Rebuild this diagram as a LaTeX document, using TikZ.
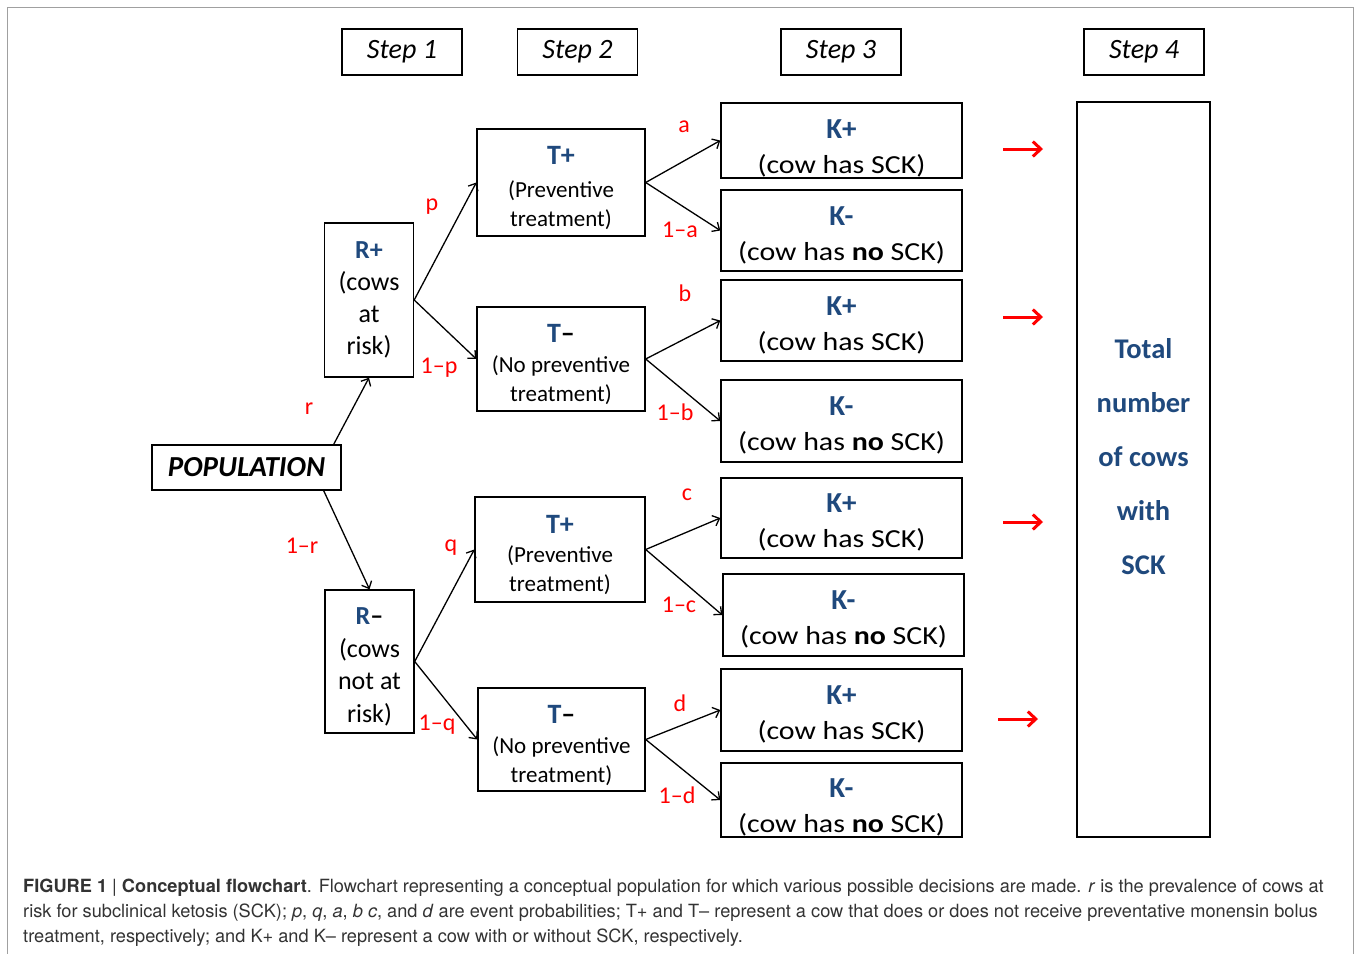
\documentclass[tikz,border=0pt]{standalone}
\usepackage{fontspec}
\setmainfont{Carlito}
\newfontfamily\capfont{TeX Gyre Heros}
\usetikzlibrary{arrows.meta}
\definecolor{kblue}{HTML}{1F497D}
\definecolor{kred}{HTML}{FF0000}
\definecolor{framegray}{HTML}{A0A0A0}
\newcommand\hstretch[1]{\scalebox{1.15}[1]{#1}}
\newcommand\khead[2][34pt]{\rule{0pt}{#1}{\fontsize{29}{29}\selectfont\bfseries\color{kblue}#2}}
\newcommand\thead[1]{\rule{0pt}{30pt}{\fontsize{28}{28}\selectfont\bfseries#1}}
\begin{document}
\begin{tikzpicture}[x=1pt,y=-1pt,
  box/.style={draw, line width=1.4pt, inner sep=0pt, align=center},
  stepbox/.style={box, minimum width=120pt, minimum height=46pt, font=\fontsize{28}{30}\selectfont\itshape},
  popbox/.style={box, minimum width=189pt, minimum height=45pt, font=\fontsize{29}{30}\selectfont\bfseries\itshape},
  rbox/.style={box, minimum width=89pt, font=\fontsize{26}{32}\selectfont},
  tbox/.style={box, font=\fontsize{23}{29}\selectfont},
  kbox/.style={box, minimum width=241pt, font=\fontsize{26}{35}\selectfont},
  conn/.style={line width=1.3pt, -{Straight Barb[length=6pt,width=11pt,line width=1.3pt]}},
  redarrow/.style={kred, line width=3pt, -{Straight Barb[length=8pt,width=15pt,line width=3pt]}},
  prob/.style={text=kred, font=\fontsize{24}{24}\selectfont, inner sep=0pt},
  capline/.style={anchor=base west, inner sep=0pt, font=\capfont\fontsize{18.2}{20}\selectfont, text=black!80}
]
\useasboundingbox (0,0) rectangle (1356,953);
\fill[white] (0,0) rectangle (1356,953);
\draw[framegray, line width=1pt] (7,980) -- (7,7) -- (1353,7) -- (1353,980);

% step headers
\node[stepbox] (s1) at (402,52) {Step 1};
\node[stepbox] (s2) at (577.5,52) {Step 2};
\node[stepbox] (s3) at (841,52) {Step 3};
\node[stepbox] (s4) at (1144,52) {Step 4};

% population
\node[popbox] (pop) at (246.5,467.5) {POPULATION};

% step 1
\node[rbox, minimum height=154pt] (rp) at (369,300)
  {{\bfseries\color{kblue}R+}\\(cows\\at\\risk)};
\node[rbox, minimum height=143pt, font=\fontsize{26}{32.5}\selectfont] (rm) at (369.5,661.5)
  {\rule{0pt}{28pt}{\bfseries{\color{kblue}R}–}\\(cows\\not at\\risk)};

% step 2
\node[tbox, minimum width=168pt, minimum height=107pt] (tp1) at (561,182.5)
  {\thead{\color{kblue}T+}\\[4pt](Preventive\\treatment)};
\node[tbox, minimum width=168pt, minimum height=104pt] (tm1) at (561,359)
  {\thead{{\color{kblue}T}–}\\[1pt](No preventive\\treatment)};
\node[tbox, minimum width=170pt, minimum height=105pt] (tp2) at (560,549.5)
  {\thead{\color{kblue}T+}\\[0pt](Preventive\\treatment)};
\node[tbox, minimum width=167pt, minimum height=103pt] (tm2) at (561.5,739.5)
  {\thead{{\color{kblue}T}–}\\[1pt](No preventive\\treatment)};

% step 3
\node[kbox, minimum height=75pt] (k1) at (841.5,140.5)
  {\khead{K+}\\\hstretch{(cow has SCK)}};
\node[kbox, minimum height=81pt] (k2) at (841.5,230.5)
  {\khead[28pt]{K-}\\\hstretch{(cow has \textbf{no} SCK)}};
\node[kbox, minimum height=81pt] (k3) at (841.5,320.5)
  {\khead[28pt]{K+}\\\hstretch{(cow has SCK)}};
\node[kbox, minimum height=82pt] (k4) at (841.5,421)
  {\khead[28pt]{K-}\\\hstretch{(cow has \textbf{no} SCK)}};
\node[kbox, minimum height=80pt] (k5) at (841.5,518)
  {\khead[28pt]{K+}\\\hstretch{(cow has SCK)}};
\node[kbox, minimum height=82pt] (k6) at (843.5,615)
  {\khead[28pt]{K-}\\\hstretch{(cow has \textbf{no} SCK)}};
\node[kbox, minimum height=82pt] (k7) at (841.5,710)
  {\khead[28pt]{K+}\\\hstretch{(cow has SCK)}};
\node[kbox, minimum height=74pt] (k8) at (841.5,800)
  {\khead{K-}\\\hstretch{(cow has \textbf{no} SCK)}};

% step 4
\node[box, minimum width=133pt, minimum height=735pt,
  label={[align=center, yshift=13pt, text=kblue, font=\fontsize{28.5}{54}\selectfont\bfseries]center:Total\\number\\of cows\\with\\SCK}] (tot) at (1143.5,469.5) {};

% connectors
\draw[conn] ([xshift=-8pt]pop.north east) -- (rp.south);
\draw[conn] ([xshift=-18pt]pop.south east) -- (rm.north);
\draw[conn] (rp.east) -- (tp1.west);
\draw[conn] (rp.east) -- (tm1.west);
\draw[conn] (rm.east) -- (tp2.west);
\draw[conn] (rm.east) -- (tm2.west);
\draw[conn] (tp1.east) -- (k1.west);
\draw[conn] (tp1.east) -- (k2.west);
\draw[conn] (tm1.east) -- (k3.west);
\draw[conn] (tm1.east) -- (k4.west);
\draw[conn] (tp2.east) -- (k5.west);
\draw[conn] (tp2.east) -- (k6.west);
\draw[conn] (tm2.east) -- (k7.west);
\draw[conn] (tm2.east) -- (k8.west);

% red arrows
\coordinate (ra1) at (1003,149); \coordinate (rb1) at (1043,149);
\coordinate (ra2) at (1003,317); \coordinate (rb2) at (1043,317);
\coordinate (ra3) at (1003,522); \coordinate (rb3) at (1043,522);
\coordinate (ra4) at (998,719);  \coordinate (rb4) at (1038,719);
\draw[redarrow] (ra1) -- (rb1);
\draw[redarrow] (ra2) -- (rb2);
\draw[redarrow] (ra3) -- (rb3);
\draw[redarrow] (ra4) -- (rb4);

% probabilities
\node[prob] (lr)  at (309,409) {r};
\node[prob] (l1r) at (302,546) {1–r};
\node[prob] (lp)  at (432,207) {p};
\node[prob] (l1p) at (439,368) {1–p};
\node[prob] (lq)  at (451,548) {q};
\node[prob] (l1q) at (437,725) {1–q};
\node[prob] (la)  at (684,127) {a};
\node[prob] (l1a) at (680,230) {1–a};
\node[prob] (lb)  at (685,293) {b};
\node[prob] (l1b) at (675,412) {1–b};
\node[prob] (lc)  at (687,495) {c};
\node[prob] (l1c) at (679,605) {1–c};
\node[prob] (ld)  at (680,703) {d};
\node[prob] (l1d) at (677,795) {1–d};

% caption
\node[capline] (c1) at (23,892) {\textbf{FIGURE 1} | \textbf{Conceptual flowchart}. Flowchart representing a conceptual population for which various possible decisions are made. \textit{r} is the prevalence of cows at};
\node[capline] (c2) at (23,917) {risk for subclinical ketosis (SCK); \textit{p}, \textit{q}, \textit{a}, \textit{b c}, and \textit{d} are event probabilities; T+ and T– represent a cow that does or does not receive preventative monensin bolus};
\node[capline] (c3) at (23,942) {treatment, respectively; and K+ and K– represent a cow with or without SCK, respectively.};
\end{tikzpicture}
\end{document}
